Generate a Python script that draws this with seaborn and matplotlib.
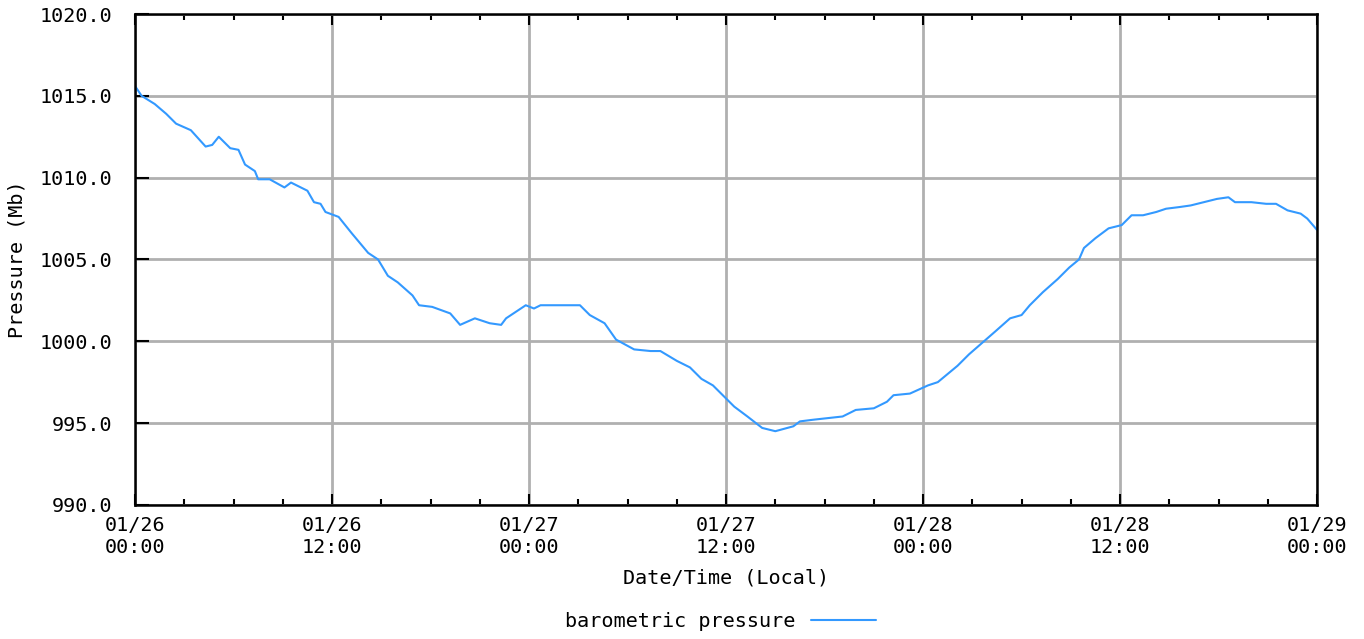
"""Barometric pressure trace, 01/26 - 01/29 (local time)."""

import matplotlib

matplotlib.use("Agg")
import matplotlib.pyplot as plt
import pandas as pd
import seaborn as sns
from matplotlib.ticker import MultipleLocator

# hours since 01/26 00:00
hours = [
    0.0, 0.4, 1.2, 1.9, 2.5, 3.4, 4.3, 4.7, 5.1, 5.8, 6.3, 6.7, 7.3, 7.5, 8.2,
    9.1, 9.5, 10.5, 10.9, 11.3, 11.6, 12.4, 13.2, 14.2, 14.8, 15.4, 16.0, 16.9,
    17.3, 18.1, 19.2, 19.8, 20.7, 21.6, 22.3, 22.6, 23.8, 24.3, 24.7, 27.1,
    27.7, 28.6, 29.3, 30.4, 31.4, 32.0, 33.0, 33.8, 34.5, 35.2, 36.1, 36.5,
    37.3, 38.2, 39.0, 40.1, 40.5, 41.3, 42.2, 43.1, 43.9, 45.0, 45.8, 46.2,
    47.2, 48.3, 48.9, 50.1, 50.8, 51.6, 52.4, 53.3, 54.0, 54.5, 55.3, 56.2,
    56.9, 57.5, 57.8, 58.5, 59.3, 60.1, 60.7, 61.4, 62.2, 62.8, 63.6, 64.3,
    65.1, 65.9, 66.6, 67.0, 68.0, 68.9, 69.5, 70.2, 71.0, 71.4, 72.0,
]
pressure = [
    1015.6, 1015.0, 1014.5, 1013.9, 1013.3, 1012.9, 1011.9, 1012.0, 1012.5,
    1011.8, 1011.7, 1010.8, 1010.4, 1009.9, 1009.9, 1009.4, 1009.7, 1009.2,
    1008.5, 1008.4, 1007.9, 1007.6, 1006.6, 1005.4, 1005.0, 1004.0, 1003.6,
    1002.8, 1002.2, 1002.1, 1001.7, 1001.0, 1001.4, 1001.1, 1001.0, 1001.4,
    1002.2, 1002.0, 1002.2, 1002.2, 1001.6, 1001.1, 1000.1, 999.5, 999.4,
    999.4, 998.8, 998.4, 997.7, 997.3, 996.4, 996.0, 995.4, 994.7, 994.5,
    994.8, 995.1, 995.2, 995.3, 995.4, 995.8, 995.9, 996.3, 996.7, 996.8,
    997.3, 997.5, 998.5, 999.2, 999.9, 1000.6, 1001.4, 1001.6, 1002.2, 1003.0,
    1003.8, 1004.5, 1005.0, 1005.7, 1006.3, 1006.9, 1007.1, 1007.7, 1007.7,
    1007.9, 1008.1, 1008.2, 1008.3, 1008.5, 1008.7, 1008.8, 1008.5, 1008.5,
    1008.4, 1008.4, 1008.0, 1007.8, 1007.5, 1006.8,
]
tick_hours = [0, 12, 24, 36, 48, 60, 72]
tick_labels = [
    "01/26\n00:00", "01/26\n12:00", "01/27\n00:00", "01/27\n12:00",
    "01/28\n00:00", "01/28\n12:00", "01/29\n00:00",
]
y_ticks = [990, 995, 1000, 1005, 1010, 1015, 1020]

sns.set_style("white")
plt.rcParams["font.family"] = ["DejaVu Sans Mono", "DejaVu Sans"]
plt.rcParams["font.size"] = 14.5
plt.rcParams["text.color"] = "black"
plt.rcParams["axes.labelcolor"] = "black"
plt.rcParams["xtick.color"] = "black"
plt.rcParams["ytick.color"] = "black"

df = pd.DataFrame({"hours": hours, "pressure": pressure})

fig = plt.figure(figsize=(13.64, 6.39), dpi=100)
ax = fig.add_axes([0.099, 0.21, 0.8666, 0.768])

ax.grid(True, which="major", color="#b0b0b0", linewidth=2)
ax.set_axisbelow(True)
sns.lineplot(data=df, x="hours", y="pressure", ax=ax, color="#3399ff",
             linewidth=1.5, label="barometric pressure", legend=False)

ax.set_xlim(0, 72)
ax.set_ylim(990, 1020)
ax.set_xticks(tick_hours)
ax.set_xticklabels(tick_labels)
ax.xaxis.set_minor_locator(MultipleLocator(3))
ax.set_yticks(y_ticks)
ax.set_yticklabels([f"{v:.1f}" for v in y_ticks])

ax.tick_params(axis="x", which="major", direction="in", length=8, width=1.5,
               top=True, bottom=True, pad=8)
ax.tick_params(axis="x", which="minor", direction="in", length=4, width=1.5,
               top=True, bottom=True)
ax.tick_params(axis="y", which="major", direction="in", length=10, width=1.5,
               left=True, right=False, pad=16)

for spine in ax.spines.values():
    spine.set_visible(True)
    spine.set_color("black")
    spine.set_linewidth(1.8)

ax.set_xlabel("Date/Time (Local)", labelpad=8)
ax.set_ylabel("Pressure (Mb)", labelpad=10)

handles, labels = ax.get_legend_handles_labels()
fig.legend(handles, labels, loc="center", bbox_to_anchor=(0.528, 0.027),
           frameon=False, markerfirst=False, handlelength=3.2)

fig.savefig("out.png", dpi=100)
